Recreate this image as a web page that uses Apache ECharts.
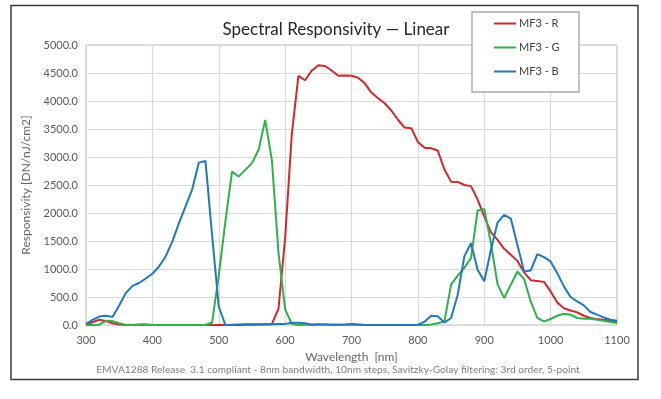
<!DOCTYPE html>
<html>
<head>
<meta charset="utf-8">
<script src="https://cdn.jsdelivr.net/npm/echarts@6/dist/echarts.min.js"></script>
<style>
html,body{margin:0;padding:0;background:#fff;}
#chart{width:661px;height:399px;}
</style>
</head>
<body>
<div id="chart"></div>
<script>
const wavelengths = [300,310,320,330,340,350,360,370,380,390,400,410,420,430,440,450,460,470,480,490,500,510,520,530,540,550,560,570,580,590,600,610,620,630,640,650,660,670,680,690,700,710,720,730,740,750,760,770,780,790,800,810,820,830,840,850,860,870,880,890,900,910,920,930,940,950,960,970,980,990,1000,1010,1020,1030,1040,1050,1060,1070,1080,1090,1100];
const seriesR = [0,50,95,70,30,10,0,0,10,10,0,0,0,0,0,0,0,0,0,0,0,0,0,0,5,5,10,10,15,290,1550,3400,4450,4370,4540,4640,4625,4545,4450,4455,4450,4415,4315,4150,4050,3960,3830,3665,3525,3515,3270,3165,3155,3115,2775,2560,2555,2500,2480,2240,1940,1660,1520,1360,1255,1145,940,800,785,770,600,400,300,260,225,165,125,105,95,77,65];
const seriesG = [0,0,5,75,70,30,0,0,0,5,0,0,0,0,0,0,0,0,0,45,880,1850,2740,2650,2770,2890,3130,3660,2950,1290,280,20,0,5,10,15,10,5,5,5,10,5,0,0,0,0,0,0,0,0,0,0,10,30,65,720,880,1020,1195,2045,2070,1460,730,480,720,955,820,420,125,65,107,166,200,184,125,112,112,95,77,53,35];
const seriesB = [20,90,150,165,145,350,570,700,750,830,915,1045,1225,1490,1820,2120,2420,2900,2930,1600,330,0,5,10,15,15,15,15,15,20,20,40,40,30,5,10,10,5,5,10,20,10,0,0,0,0,0,0,0,0,0,60,165,155,45,125,540,1225,1460,985,780,1340,1830,1967,1900,1430,955,975,1265,1213,1135,925,690,500,420,350,232,184,136,95,77];
const seriesNames = ['MF3 - R','MF3 - G','MF3 - B'];
const seriesColors = ['#d1282e','#2db24a','#1f78c1'];
const xTicks = {min:300, max:1100, interval:100};
const yTicks = {min:0, max:5000, interval:500};

const FONT = 'Lato, "Open Sans", sans-serif';
const pairs = vals => wavelengths.map((w,i)=>[w, vals[i]]);
const allVals = [seriesR, seriesG, seriesB];

const chart = echarts.init(document.getElementById('chart'), null, {renderer:'canvas'});
chart.setOption({
  animation:false,
  backgroundColor:'#fff',
  textStyle:{fontFamily:FONT},
  title:{
    text:'Spectral Responsivity — Linear',
    left:331, top:16, textAlign:'center',
    textStyle:{fontFamily:FONT, fontSize:17, fontWeight:'normal', color:'#262626'}
  },
  grid:{left:86, right:44, top:45, bottom:74, show:true, borderColor:'#bfbfbf', borderWidth:1},
  xAxis:{
    type:'value', min:xTicks.min, max:xTicks.max, interval:xTicks.interval,
    name:'Wavelength  [nm]', nameLocation:'middle', nameGap:24,
    nameTextStyle:{fontFamily:FONT, fontSize:12, color:'#666666'},
    axisLine:{show:false}, axisTick:{show:false},
    axisLabel:{fontFamily:FONT, fontSize:11, color:'#595959', margin:10, formatter:v=>String(v)},
    splitLine:{show:true, lineStyle:{color:'#d9d9d9', width:1.2}}
  },
  yAxis:{
    type:'value', min:yTicks.min, max:yTicks.max, interval:yTicks.interval,
    name:'Responsivity [DN/nJ/cm2]', nameLocation:'middle', nameGap:54,
    nameTextStyle:{fontFamily:FONT, fontSize:12, color:'#666666'},
    axisLine:{show:false}, axisTick:{show:false},
    axisLabel:{fontFamily:FONT, fontSize:11, color:'#595959', margin:8, formatter:v=>v.toFixed(1)},
    splitLine:{show:true, lineStyle:{color:'#d9d9d9', width:1.2}}
  },
  legend:{
    orient:'vertical', left:494, top:18, padding:0,
    icon:'rect', itemWidth:22, itemHeight:2, itemGap:13,
    textStyle:{fontFamily:FONT, fontSize:11, color:'#404040', padding:[0,0,0,-2]},
    data:seriesNames, z:5
  },
  graphic:[
    {type:'rect', z:-1, silent:true, shape:{x:11, y:5.5, width:627, height:374}, style:{fill:'none', stroke:'#3a3a3a', lineWidth:1.5}},
    {type:'rect', z:3, silent:true, shape:{x:472, y:12, width:107, height:80}, style:{fill:'#fff', stroke:'#a6a6a6', lineWidth:1.3}},
    {type:'text', z:3, silent:true, x:338, y:365, style:{text:'EMVA1288 Release  3.1 compliant - 8nm bandwidth, 10nm steps, Savitzky-Golay filtering: 3rd order, 5-point', font:'10.2px '+FONT, fill:'#7f7f7f', textAlign:'center'}}
  ],
  series: seriesNames.map((n,i)=>({
    name:n, type:'line', data:pairs(allVals[i]), showSymbol:false, symbol:'none',
    lineStyle:{color:seriesColors[i], width:2}, itemStyle:{color:seriesColors[i]}, z:2
  }))
});
</script>
</body>
</html>
